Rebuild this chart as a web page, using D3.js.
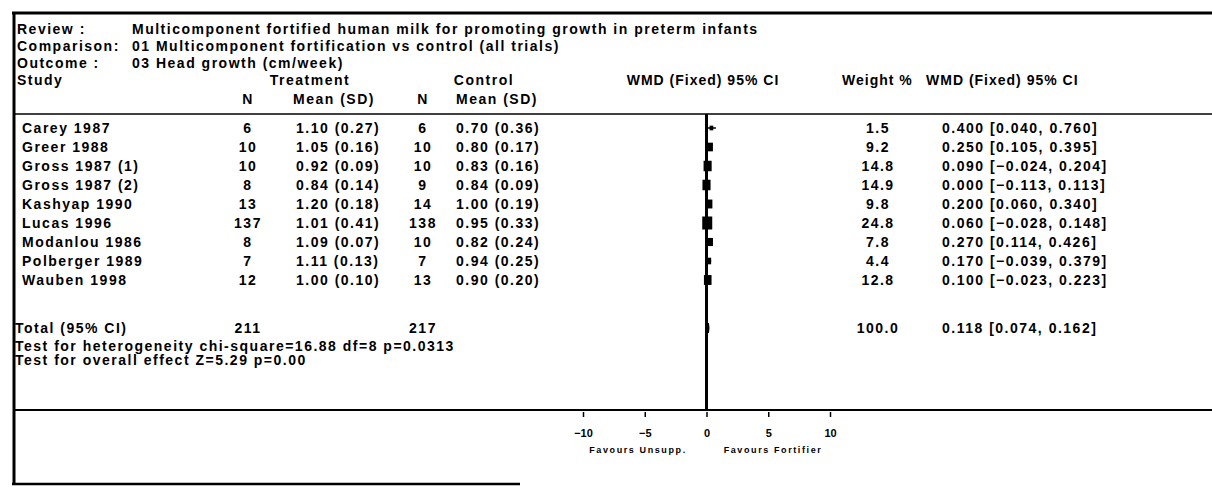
<!DOCTYPE html>
<html>
<head>
<meta charset="utf-8">
<script src="https://cdn.jsdelivr.net/npm/d3@7"></script>
<style>
  html, body { margin: 0; padding: 0; background: #fff; }
  svg { display: block; }
  text { font-family: "Liberation Sans", Arial, sans-serif; font-weight: bold; fill: #000; }
</style>
</head>
<body>
<svg id="chart" width="1212" height="487"></svg>
<script>
// ---------------- data ----------------
const studies   = ["Carey 1987", "Greer 1988", "Gross 1987 (1)", "Gross 1987 (2)", "Kashyap 1990", "Lucas 1996", "Modanlou 1986", "Polberger 1989", "Wauben 1998"];
const nTreat    = [6, 10, 10, 8, 13, 137, 8, 7, 12];
const meanTreat = [1.10, 1.05, 0.92, 0.84, 1.20, 1.01, 1.09, 1.11, 1.00];
const sdTreat   = [0.27, 0.16, 0.09, 0.14, 0.18, 0.41, 0.07, 0.13, 0.10];
const nCtrl     = [6, 10, 10, 9, 14, 138, 10, 7, 13];
const meanCtrl  = [0.70, 0.80, 0.83, 0.84, 1.00, 0.95, 0.82, 0.94, 0.90];
const sdCtrl    = [0.36, 0.17, 0.16, 0.09, 0.19, 0.33, 0.24, 0.25, 0.20];
const weights   = [1.5, 9.2, 14.8, 14.9, 9.8, 24.8, 7.8, 4.4, 12.8];
const wmd       = [0.400, 0.250, 0.090, 0.000, 0.200, 0.060, 0.270, 0.170, 0.100];
const ciLow     = [0.040, 0.105, -0.024, -0.113, 0.060, -0.028, 0.114, -0.039, -0.023];
const ciHigh    = [0.760, 0.395, 0.204, 0.113, 0.340, 0.148, 0.426, 0.379, 0.223];
const totalN    = [211, 217];
const totalWeight = 100.0;
const totalEffect = [0.118, 0.074, 0.162];   // estimate, low, high
const axisTicks = [-10, -5, 0, 5, 10];
const headerLabels = ["Review :", "Comparison:", "Outcome :"];
const headerValues = ["Multicomponent fortified human milk for promoting growth in preterm infants",
                      "01 Multicomponent fortification vs control (all trials)",
                      "03 Head growth (cm/week)"];
const hetText = "Test for heterogeneity chi-square=16.88 df=8 p=0.0313";
const overallText = "Test for overall effect Z=5.29 p=0.00";
const favLeft = "Favours Unsupp.";
const favRight = "Favours Fortifier";

// ---------------- layout ----------------
const L = {
  top: 13, left: 14, bottom: 484, bottomRight: 520,
  headY: [29, 46, 63], studyY: 80, subY: 99, hLine: 114,
  row0: 128, rowStep: 19, totalY: 328, hetY: 346, overallY: 360,
  sep: 410, favY: 450,
  xLabel: 17, xValue: 132, xName: 22,
  xNT: 248, xMT: 296, xNC: 423, xMC: 456, xW: 878, xCI: 942,
  plotLo: 583, plotHi: 830
};

const svg = d3.select("#chart");
const fs = 14, ls = 1.5;

// borders
svg.append("line").attr("x1", L.left - 2).attr("x2", 1212).attr("y1", L.top).attr("y2", L.top)
  .attr("stroke", "#000").attr("stroke-width", 3);
svg.append("line").attr("x1", L.left).attr("x2", L.left).attr("y1", L.top).attr("y2", L.bottom)
  .attr("stroke", "#000").attr("stroke-width", 3);
svg.append("line").attr("x1", L.left - 2).attr("x2", L.bottomRight).attr("y1", L.bottom).attr("y2", L.bottom)
  .attr("stroke", "#000").attr("stroke-width", 2.5);

function txt(x, y, s, anchor, size, spacing) {
  return svg.append("text").attr("x", x).attr("y", y).attr("dy", "0.35em")
    .attr("text-anchor", anchor || "start").style("font-size", (size || fs) + "px")
    .style("letter-spacing", (spacing == null ? ls : spacing) + "px").text(s);
}

// header block
headerLabels.forEach((h, i) => {
  txt(L.xLabel, L.headY[i], h);
  txt(L.xValue, L.headY[i], headerValues[i]);
});
txt(L.xLabel, L.studyY, "Study");
txt(310, L.studyY, "Treatment", "middle");
txt(484, L.studyY, "Control", "middle");
txt(703, L.studyY, "WMD (Fixed) 95% CI", "middle", 14, 1.0);
txt(842, L.studyY, "Weight %", "start", 14, 1.0);
txt(926, L.studyY, "WMD (Fixed) 95% CI", "start", 14, 1.0);
txt(L.xNT, L.subY, "N", "middle");
txt(L.xMT - 3, L.subY, "Mean (SD)");
txt(L.xNC, L.subY, "N", "middle");
txt(L.xMC, L.subY, "Mean (SD)");
svg.append("line").attr("x1", L.left).attr("x2", 1212).attr("y1", L.hLine).attr("y2", L.hLine)
  .attr("stroke", "#000").attr("stroke-width", 1.5);

// rows
const f2 = d3.format(".2f"), f3 = d3.format(".3f"), f1 = d3.format(".1f");
const yRow = d3.scaleLinear().domain([0, 1]).range([L.row0, L.row0 + L.rowStep]);
const x = d3.scaleLinear().domain([-10, 10]).range([L.plotLo, L.plotHi]);

studies.forEach((s, i) => {
  const y = yRow(i);
  txt(L.xName, y, s);
  txt(L.xNT, y, nTreat[i], "middle");
  txt(L.xMT, y, `${f2(meanTreat[i])} (${f2(sdTreat[i])})`);
  txt(L.xNC, y, nCtrl[i], "middle");
  txt(L.xMC, y, `${f2(meanCtrl[i])} (${f2(sdCtrl[i])})`);
  txt(L.xW, y, f1(weights[i]), "middle");
  txt(L.xCI, y, `${f3(wmd[i])} [${f3(ciLow[i])}, ${f3(ciHigh[i])}]`);
});

// total + tests
txt(L.xLabel - 2, L.totalY, "Total (95% CI)");
txt(L.xNT, L.totalY, totalN[0], "middle");
txt(L.xNC, L.totalY, totalN[1], "middle");
txt(L.xW, L.totalY, f1(totalWeight), "middle");
txt(L.xCI, L.totalY, `${f3(totalEffect[0])} [${f3(totalEffect[1])}, ${f3(totalEffect[2])}]`);
txt(L.xLabel - 2, L.hetY, hetText);
txt(L.xLabel - 2, L.overallY, overallText);

// plot: zero line
svg.append("line").attr("x1", x(0)).attr("x2", x(0)).attr("y1", L.hLine).attr("y2", L.sep)
  .attr("stroke", "#000").attr("stroke-width", 3);

// CI lines and squares
const side = d3.scaleSqrt().domain([0, d3.max(weights)]).range([1.5, 10]);
studies.forEach((s, i) => {
  const y = yRow(i);
  svg.append("line").attr("x1", x(ciLow[i])).attr("x2", x(ciHigh[i])).attr("y1", y).attr("y2", y)
    .attr("stroke", "#000").attr("stroke-width", 1.5);
  const w = side(weights[i]);
  svg.append("rect").attr("x", x(wmd[i]) - w / 2).attr("y", y - w * 0.65).attr("width", w).attr("height", w * 1.3)
    .attr("fill", "#000");
});
// diamond
const dy = 5;
svg.append("polygon")
  .attr("points", [[x(totalEffect[1]), L.totalY], [x(totalEffect[0]), L.totalY - dy], [x(totalEffect[2]), L.totalY], [x(totalEffect[0]), L.totalY + dy]].map(p => p.join(",")).join(" "))
  .attr("fill", "#000").attr("stroke", "#000").attr("stroke-width", 2);

// separator + axis
svg.append("line").attr("x1", L.left).attr("x2", 1212).attr("y1", L.sep).attr("y2", L.sep)
  .attr("stroke", "#000").attr("stroke-width", 2);
const axis = d3.axisBottom(x).tickValues(axisTicks).tickSize(5).tickPadding(12).tickFormat(d3.format("d"));
const gA = svg.append("g").attr("transform", `translate(0,${L.sep + 2})`).call(axis);
gA.select(".domain").remove();
gA.selectAll(".tick line").attr("stroke", "#000").attr("stroke-width", 1.5);
gA.selectAll(".tick text").style("font-size", "11px").style("font-family", "'Liberation Sans', Arial, sans-serif").style("font-weight", "bold");
txt(638, L.favY, favLeft, "middle", 9, 1.6);
txt(773, L.favY, favRight, "middle", 9, 1.6);
</script>
</body>
</html>
